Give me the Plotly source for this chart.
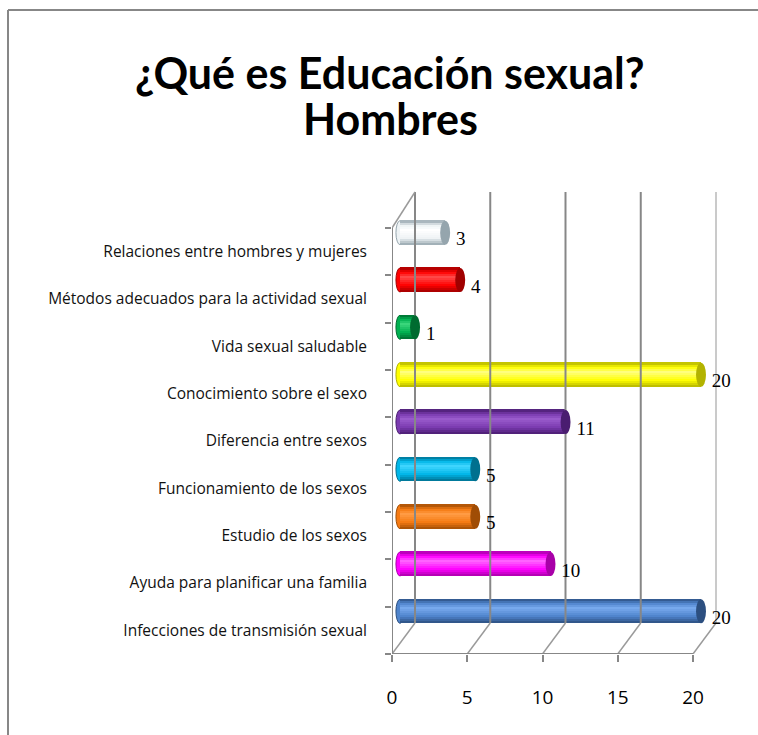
import plotly.graph_objects as go

# Survey answers (men): what is sex education?
categories = [
    "Infecciones de transmisión sexual",
    "Ayuda para planificar una familia",
    "Estudio de los sexos",
    "Funcionamiento de los sexos",
    "Diferencia entre sexos",
    "Conocimiento sobre el sexo",
    "Vida sexual saludable",
    "Métodos adecuados para la actividad sexual",
    "Relaciones entre hombres y mujeres",
]
values = [20, 10, 5, 5, 11, 20, 1, 4, 3]
x_ticks = [0, 5, 10, 15, 20]
title_lines = ["¿Qué es Educación sexual?", "Hombres"]

main_colors = ["#4f84cc", "#ff00ff", "#f57a12", "#00b6e8", "#7b3bb0",
               "#ffff00", "#00b050", "#ff0000", "#eef3f5"]
dark_colors = ["#2c4f80", "#a800a8", "#a04d05", "#00708f", "#4a1d70",
               "#b3b300", "#006b30", "#a00000", "#95a5ad"]
light_colors = ["#78aaee", "#ff66ff", "#ff9c45", "#40d6ff", "#9a5ccc",
                "#ffff80", "#3cd77c", "#ff4a4a", "#ffffff"]

# ---- geometry of the pseudo-3D frame -------------------------------------
W, H = 758, 735
ML, MR, MT, MB = 392, 10, 185, 81
plot_w = W - ML - MR
plot_h = H - MT - MB
KX = 15.05                      # pixels per unit on the value axis
KY = 426 / len(categories)      # pixels per category slot

x_range = [0, plot_w / KX]
y_range = [-0.5, -0.5 + plot_h / KY]

wall_dx = 23 / KX               # depth shift of the back wall
wall_dy = 31 / KY
wall_dy_top = 36 / KY
bar_dx = 8 / KX                 # bars sit half-way into the depth
bar_dy = 19 / KY

n = len(categories)
y_top = n - 0.5
y_bot = -0.5

AXIS_GREY = "#878787"


def px2paper_x(px):
    return (px - ML) / plot_w


def px2paper_y(py):
    return (H - MB - py) / plot_h


def hex2rgb(h):
    h = h.lstrip("#")
    return [int(h[i:i + 2], 16) for i in (0, 2, 4)]


def mix(c1, c2, t):
    a, b = hex2rgb(c1), hex2rgb(c2)
    r = [round(a[k] + (b[k] - a[k]) * t) for k in range(3)]
    return "rgb({},{},{})".format(*r)


def shade(i, t):
    """Colour across a cylinder, t=0 at its lower edge and t=1 at the top."""
    stops = [(0.0, dark_colors[i]), (0.28, main_colors[i]),
             (0.62, light_colors[i]), (0.82, main_colors[i]),
             (1.0, dark_colors[i])]
    for (t0, c0), (t1, c1) in zip(stops[:-1], stops[1:]):
        if t <= t1:
            return mix(c0, c1, (t - t0) / (t1 - t0))
    return stops[-1][1]


fig = go.Figure()

# back-wall gridlines
gx, gy = [], []
for v in x_ticks[:-1]:
    gx += [v + wall_dx, v + wall_dx, None]
    gy += [y_bot + wall_dy, y_top + wall_dy_top, None]
fig.add_trace(go.Scatter(x=gx, y=gy, mode="lines",
                         line=dict(color=AXIS_GREY, width=2),
                         hoverinfo="skip", showlegend=False))
fig.add_trace(go.Scatter(x=[x_ticks[-1] + wall_dx] * 2,
                         y=[y_bot + wall_dy, y_top + wall_dy_top],
                         mode="lines", line=dict(color="#b8b8b8", width=1.5),
                         hoverinfo="skip", showlegend=False))

# floor diagonals and the top-left edge
dx_, dy_ = [], []
for v in x_ticks:
    dx_ += [v, v + wall_dx, None]
    dy_ += [y_bot, y_bot + wall_dy, None]
dx_ += [0, wall_dx, None]
dy_ += [y_top, y_top + wall_dy_top, None]
fig.add_trace(go.Scatter(x=dx_, y=dy_, mode="lines",
                         line=dict(color="#9a9a9a", width=1.5),
                         hoverinfo="skip", showlegend=False))

# front axis lines
fig.add_trace(go.Scatter(x=[0, 0, None, 0, x_ticks[-1]],
                         y=[y_bot, y_top, None, y_bot, y_bot],
                         mode="lines", line=dict(color=AXIS_GREY, width=2),
                         hoverinfo="skip", showlegend=False))

# cylinder bodies: thin horizontal bands give the rounded shading
ys = [i + bar_dy for i in range(n)]
BAR_PX = 24
BAR_W = BAR_PX / KY
N_BANDS = 12
band_px = BAR_PX / N_BANDS
for k in range(N_BANDS):
    t = (k + 0.5) / N_BANDS
    fig.add_trace(go.Bar(
        orientation="h", y=ys, x=values, base=bar_dx,
        width=(band_px + 0.6) / KY,
        offset=(-BAR_PX / 2 + k * band_px) / KY,
        marker=dict(color=[shade(i, t) for i in range(n)], line=dict(width=0)),
        hoverinfo="skip", showlegend=False,
    ))

# end caps of the cylinders
shapes = []
for i, v in enumerate(values):
    yc = ys[i]
    shapes.append(dict(type="circle", xref="x", yref="y", layer="below",
                       x0=bar_dx - 0.27, x1=bar_dx + 0.27,
                       y0=yc - BAR_W / 2, y1=yc + BAR_W / 2,
                       fillcolor=main_colors[i],
                       line=dict(color=dark_colors[i], width=1)))
    shapes.append(dict(type="circle", xref="x", yref="y", layer="above",
                       x0=bar_dx + v - 0.33, x1=bar_dx + v + 0.33,
                       y0=yc - BAR_W / 2, y1=yc + BAR_W / 2,
                       fillcolor=dark_colors[i], line=dict(width=0)))

# outer frame of the chart area
shapes.append(dict(type="line", xref="paper", yref="paper",
                   x0=px2paper_x(8), x1=px2paper_x(8),
                   y0=px2paper_y(10), y1=px2paper_y(H + 5),
                   line=dict(color=AXIS_GREY, width=2)))
shapes.append(dict(type="line", xref="paper", yref="paper",
                   x0=px2paper_x(8), x1=px2paper_x(W + 5),
                   y0=px2paper_y(10), y1=px2paper_y(10),
                   line=dict(color=AXIS_GREY, width=2)))

# value labels
fig.add_trace(go.Scatter(
    x=[bar_dx + v + 0.72 for v in values],
    y=[y - 8 / KY for y in ys],
    text=[str(v) for v in values],
    mode="text", textposition="middle right",
    textfont=dict(family="Liberation Serif", size=19, color="#000000"),
    cliponaxis=False, hoverinfo="skip", showlegend=False,
))

# two-line title
annotations = []
for line, cy in zip(title_lines, [72, 118]):
    annotations.append(dict(
        text="<b>%s</b>" % line, xref="paper", yref="paper",
        x=px2paper_x(390), y=px2paper_y(cy), xanchor="center",
        yanchor="middle", showarrow=False,
        font=dict(family="Lato", size=43, color="#000000"),
    ))

fig.update_layout(
    width=W, height=H,
    margin=dict(l=ML, r=MR, t=MT, b=MB, pad=0),
    paper_bgcolor="white", plot_bgcolor="white",
    barmode="overlay", bargap=0,
    shapes=shapes, annotations=annotations,
    xaxis=dict(
        range=x_range, tickmode="array", tickvals=x_ticks,
        ticks="outside", ticklen=7, tickwidth=2, tickcolor=AXIS_GREY,
        ticklabelstandoff=19,
        tickfont=dict(family="Open Sans", size=19, color="#000000"),
        showgrid=False, zeroline=False, showline=False, fixedrange=True,
    ),
    yaxis=dict(
        range=y_range, tickmode="array", tickvals=list(range(n)),
        ticktext=categories, ticks="", ticklabelstandoff=24,
        tickfont=dict(family="Open Sans", size=15.5, color="#111111"),
        minor=dict(tickmode="array",
                   tickvals=[k - 0.5 for k in range(n + 1)],
                   ticks="outside", ticklen=6, tickwidth=2,
                   tickcolor=AXIS_GREY, showgrid=False),
        showgrid=False, zeroline=False, showline=False, fixedrange=True,
    ),
)

fig.write_html("out.html")
